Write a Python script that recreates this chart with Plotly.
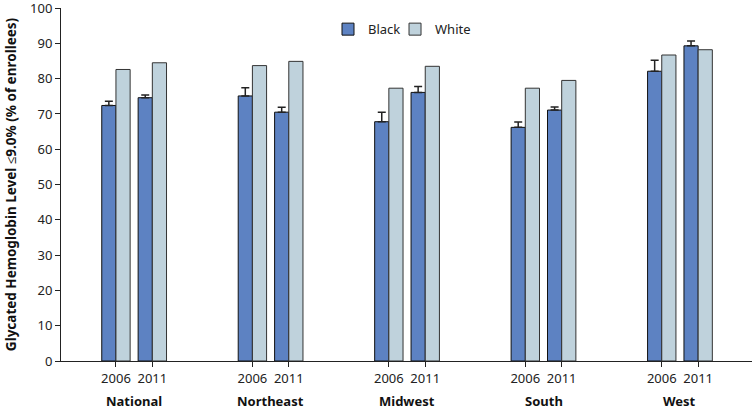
import plotly.graph_objects as go

regions = ["National", "Northeast", "Midwest", "South", "West"]
years = ["2006", "2011"]

black_2006 = [72.4, 75.1, 67.8, 66.2, 82.1]
black_2006_err = [1.2, 2.3, 2.7, 1.5, 3.1]
black_2011 = [74.6, 70.5, 76.1, 71.1, 89.3]
black_2011_err = [0.8, 1.4, 1.7, 0.9, 1.4]
white_2006 = [82.6, 83.7, 77.3, 77.3, 86.7]
white_2011 = [84.5, 84.9, 83.5, 79.5, 88.2]

GROUP_STEP = 3.75
BAR_W = 0.39
FONT = "Noto Sans"

xpos, xlab, bvals, berr, wvals = [], [], [], [], []
for g, r in enumerate(regions):
    for j, yr in enumerate(years):
        xpos.append(g * GROUP_STEP + j)
        xlab.append(yr)
    bvals += [black_2006[g], black_2011[g]]
    berr += [black_2006_err[g], black_2011_err[g]]
    wvals += [white_2006[g], white_2011[g]]

BLUE = "#5d82c2"
LIGHT = "#bfd2dc"

fig = go.Figure()
fig.add_trace(go.Bar(
    x=xpos, y=bvals, name="Black", width=BAR_W, offset=-BAR_W, legend="legend",
    marker=dict(color=BLUE, line=dict(color="#111111", width=1)),
    error_y=dict(type="data", array=berr, arrayminus=[0] * len(berr), symmetric=False,
                 color="#222222", thickness=1.5, width=4),
))
fig.add_trace(go.Bar(
    x=xpos, y=wvals, name="White", width=BAR_W, offset=0, legend="legend2",
    marker=dict(color=LIGHT, line=dict(color="#333333", width=1)),
))

for g, r in enumerate(regions):
    fig.add_annotation(x=g * GROUP_STEP + 0.5, y=-0.113, xref="x", yref="paper",
                       text="<b>%s</b>" % r, showarrow=False, yanchor="middle",
                       font=dict(family=FONT, size=13, color="#111111"))

legend_style = dict(orientation="h", y=0.94, xanchor="left", yanchor="middle",
                    font=dict(family=FONT, size=13, color="#222222"),
                    bgcolor="rgba(0,0,0,0)")

fig.update_layout(
    width=756, height=409,
    margin=dict(l=61, r=4, t=8, b=48, autoexpand=False),
    paper_bgcolor="white", plot_bgcolor="white",
    barmode="overlay",
    font=dict(family=FONT, size=12, color="#222222"),
    legend=dict(x=0.3864, **legend_style),
    legend2=dict(x=0.4834, **legend_style),
    showlegend=True,
)
fig.update_xaxes(
    range=[-1.51, 4 * GROUP_STEP + 1 + 1.48],
    tickmode="array", tickvals=xpos, ticktext=xlab,
    showline=True, linecolor="#222222", linewidth=1,
    ticks="outside", ticklen=5, tickcolor="#222222",
    showgrid=False, zeroline=False, automargin=False,
    tickfont=dict(family=FONT, size=13, color="#222222"),
)
fig.update_yaxes(
    range=[0, 100.02], tickmode="array", tickvals=list(range(0, 101, 10)),
    showline=True, linecolor="#222222", linewidth=1,
    ticks="outside", ticklen=5, tickcolor="#222222",
    showgrid=False, zeroline=False, automargin=False, ticklabeloverflow="allow",
    tickfont=dict(family=FONT, size=13, color="#222222"),
    title=dict(text="<b>Glycated Hemoglobin Level ≤9.0% (% of enrollees)</b>",
               font=dict(family=FONT, size=13.5, color="#111111"), standoff=10),
)

fig.write_html("out.html", config={"displayModeBar": False},
               post_script="document.body.style.margin='0';document.body.style.overflow='hidden';")
